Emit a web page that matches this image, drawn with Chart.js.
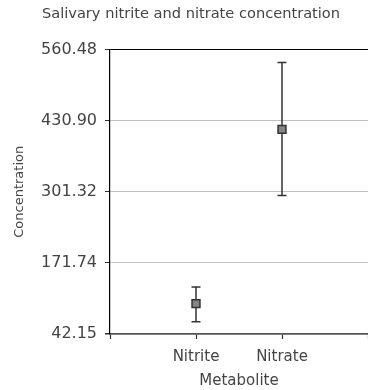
<!DOCTYPE html>
<html>
<head>
<meta charset="utf-8">
<script src="https://cdn.jsdelivr.net/npm/chart.js@4.4.1/dist/chart.umd.min.js"></script>
<style>
  html, body { margin: 0; padding: 0; background: #fff; }
  #wrap { width: 368px; height: 390px; }
</style>
</head>
<body>
<div id="wrap"><canvas id="c" width="368" height="390"></canvas></div>
<script>
const categories = ['Nitrite', 'Nitrate'];
const categoryPositions = [1, 2];
const means = [97.5, 415.0];
const lowerBounds = [64.6, 294.6];
const upperBounds = [127.9, 536.7];
const yTickValues = [42.15, 171.74, 301.32, 430.90, 560.48];
const xTickValues = [0, 1, 2, 3];
const xTickLabels = ['', 'Nitrite', 'Nitrate', ''];

const FONT = 'DejaVu Sans';
const TEXT = '#444';

const errorBarPlugin = {
  id: 'errorBars',
  beforeDatasetsDraw(chart) {
    const ctx = chart.ctx;
    const xs = chart.scales.x, ys = chart.scales.y;
    ctx.save();
    ctx.strokeStyle = '#333';
    ctx.lineWidth = 1.5;
    for (let i = 0; i < categories.length; i++) {
      const x = xs.getPixelForValue(categoryPositions[i]);
      const yl = ys.getPixelForValue(lowerBounds[i]);
      const yu = ys.getPixelForValue(upperBounds[i]);
      const cap = 4.5;
      ctx.beginPath();
      ctx.moveTo(x, yl); ctx.lineTo(x, yu);
      ctx.moveTo(x - cap, yl); ctx.lineTo(x + cap, yl);
      ctx.moveTo(x - cap, yu); ctx.lineTo(x + cap, yu);
      ctx.stroke();
    }
    ctx.restore();
  }
};

new Chart(document.getElementById('c'), {
  type: 'scatter',
  data: {
    datasets: [{
      label: 'Mean',
      data: categories.map((c, i) => ({ x: categoryPositions[i], y: means[i] })),
      pointStyle: 'rect',
      pointRadius: 5.6,
      pointHoverRadius: 5.6,
      backgroundColor: '#858585',
      borderColor: '#333',
      borderWidth: 1.5
    }]
  },
  options: {
    responsive: false,
    animation: false,
    layout: { autoPadding: false, padding: { left: 14, right: 0, top: 0, bottom: 0 } },
    plugins: {
      legend: { display: false },
      tooltip: { enabled: false },
      title: {
        display: true,
        text: 'Salivary nitrite and nitrate concentration',
        color: TEXT,
        font: { family: FONT, size: 14.6, weight: 'normal' },
        padding: { top: 5, bottom: 27 }
      }
    },
    scales: {
      x: {
        type: 'linear',
        min: 0, max: 3,
        afterBuildTicks(scale) { scale.ticks = xTickValues.map(v => ({ value: v })); },
        afterFit(scale) { scale.height = 56; scale.paddingLeft = 0; scale.paddingRight = 0; },
        ticks: {
          color: TEXT,
          font: { family: FONT, size: 15 },
          padding: 9,
          maxRotation: 0,
          autoSkip: false,
          callback: (v) => xTickLabels[xTickValues.indexOf(v)] ?? ''
        },
        grid: { drawOnChartArea: false, drawTicks: true, tickLength: 5, tickColor: '#333', tickWidth: 1.2 },
        border: { display: true, color: '#555', width: 1.5 },
        title: {
          display: true, text: 'Metabolite', color: TEXT,
          font: { family: FONT, size: 15 },
          padding: { top: 0, bottom: 0 }
        }
      },
      y: {
        min: 42.15, max: 560.48,
        afterBuildTicks(scale) { scale.ticks = yTickValues.map(v => ({ value: v })); },
        afterFit(scale) { scale.width = 96; },
        ticks: {
          color: TEXT,
          font: { family: FONT, size: 16 },
          padding: 8,
          autoSkip: false,
          callback: (v) => Number(v).toFixed(2)
        },
        grid: {
          color: (c) => c.tick && c.tick.value === 560.48 ? '#000' : (c.tick && c.tick.value === 42.15 ? '#555' : '#c0c0c0'),
          lineWidth: (c) => c.tick && c.tick.value === 42.15 ? 1.5 : 1,
          drawTicks: true, tickLength: 5, tickColor: '#333'
        },
        border: { display: true, color: '#000', width: 1.2 },
        title: {
          display: true, text: 'Concentration', color: TEXT,
          font: { family: FONT, size: 13 },
          padding: { top: -2, bottom: 0 }
        }
      }
    }
  },
  plugins: [errorBarPlugin]
});
</script>
</body>
</html>
